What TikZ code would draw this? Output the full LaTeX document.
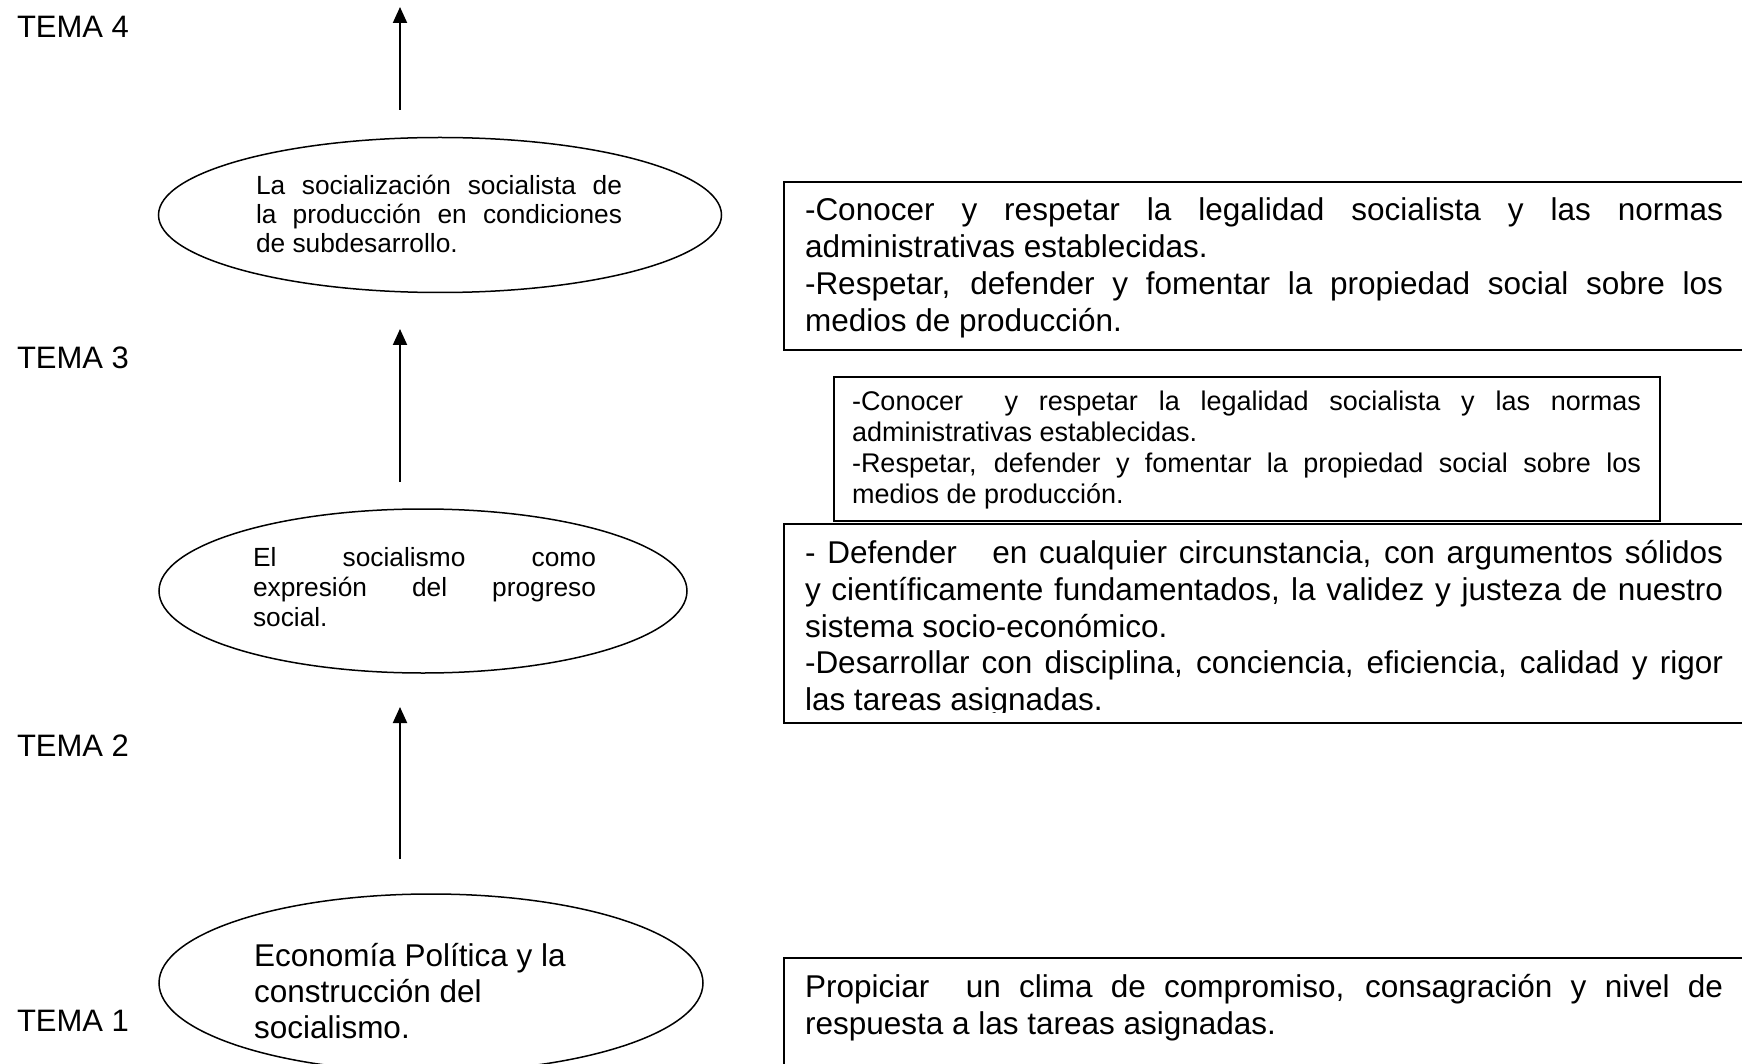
\documentclass[tikz,border=0pt]{standalone}
\usepackage{fontspec}
\setmainfont{Liberation Sans}
\usetikzlibrary{arrows.meta,shapes.geometric}
\tikzset{
  tl/.style={anchor=base west, inner sep=0pt, outer sep=0pt},
  fbig/.style={font=\fontsize{31.5}{36}\selectfont},
  fmid/.style={font=\fontsize{27}{31}\selectfont},
  fsmall/.style={font=\fontsize{26.3}{29.5}\selectfont},
  ftema/.style={font=\fontsize{31}{36}\selectfont},
  oval/.style={draw, ellipse, inner sep=0pt, line width=1.5pt},
  boxthick/.style={draw, line width=2.2pt},
  boxthin/.style={draw, line width=1.5pt},
  arr/.style={line width=2pt, -{Triangle[length=16pt,width=14pt]}}
}
\begin{document}
\begin{tikzpicture}[x=1pt,y=-1pt]
\clip (0,0) rectangle (1742,1064);
\fill[white] (0,0) rectangle (1742,1064);

% TEMA labels
\node[tl,ftema] (t4) at (17,38) {TEMA 4};
\node[tl,ftema] (t3) at (17,368) {TEMA 3};
\node[tl,ftema] (t2) at (17,756) {TEMA 2};
\node[tl,ftema] (t1) at (17,1031) {TEMA 1};

% ellipses
\node[oval, minimum width=563pt, minimum height=155pt] (e1) at (440,215) {};
\node[oval, minimum width=528pt, minimum height=164pt] (e2) at (423,591) {};
\node[oval, minimum width=544pt, minimum height=178pt] (e3) at (431,983) {};

% ellipse texts
\node[tl,fsmall] (e1a) at (256,195) {\makebox[366pt][s]{La socialización socialista de}};
\node[tl,fsmall] (e1b) at (256,224) {\makebox[366pt][s]{la producción en condiciones}};
\node[tl,fsmall] (e1c) at (256,253) {de subdesarrollo.};

\node[tl,fsmall] (e2a) at (253,566) {\makebox[343pt][s]{El socialismo como}};
\node[tl,fsmall] (e2b) at (253,596) {\makebox[343pt][s]{expresión del progreso}};
\node[tl,fsmall] (e2c) at (253,626) {social.};

\node[tl,fbig] (e3a) at (254,966) {Economía Política y la};
\node[tl,fbig] (e3b) at (254,1002) {construcción del};
\node[tl,fbig] (e3c) at (254,1038) {socialismo.};

% arrows
\coordinate (a1s) at (400,110); \coordinate (a1e) at (400,7);
\coordinate (a2s) at (400,482); \coordinate (a2e) at (400,329);
\coordinate (a3s) at (400,859); \coordinate (a3e) at (400,707);
\draw[arr] (a1s) -- (a1e);
\draw[arr] (a2s) -- (a2e);
\draw[arr] (a3s) -- (a3e);

% box A
\node[boxthick, anchor=north west, minimum width=1000pt, minimum height=168pt, inner sep=0pt] (bA) at (783,181) {};
\node[tl,fbig] (bA1) at (805,221) {\makebox[918pt][s]{-Conocer y respetar la legalidad socialista y las normas}};
\node[tl,fbig] (bA2) at (805,258) {administrativas establecidas.};
\node[tl,fbig] (bA3) at (805,295) {\makebox[918pt][s]{-Respetar, defender y fomentar la propiedad social sobre los}};
\node[tl,fbig] (bA4) at (805,332) {medios de producción.};

% box B
\node[boxthin, anchor=north west, minimum width=826pt, minimum height=144pt, inner sep=0pt] (bB) at (833,376) {};
\node[tl,fmid] (bB1) at (852,410) {\makebox[789pt][s]{-Conocer\ \ y respetar la legalidad socialista y las normas}};
\node[tl,fmid] (bB2) at (852,441) {administrativas establecidas.};
\node[tl,fmid] (bB3) at (852,472) {\makebox[789pt][s]{-Respetar, defender y fomentar la propiedad social sobre los}};
\node[tl,fmid] (bB4) at (852,503) {medios de producción.};

% box C
\node[boxthick, anchor=north west, minimum width=1000pt, minimum height=199pt, inner sep=0pt] (bC) at (783,523) {};
\begin{scope}
\clip (785,525) rectangle (1760,712);
\node[tl,fbig] (bC1) at (805,563) {\makebox[918pt][s]{- Defender\ \ \ en cualquier circunstancia, con argumentos sólidos}};
\node[tl,fbig] (bC2) at (805,600) {\makebox[918pt][s]{y científicamente fundamentados, la validez y justeza de nuestro}};
\node[tl,fbig] (bC3) at (805,637) {sistema socio-económico.};
\node[tl,fbig] (bC4) at (805,673) {\makebox[918pt][s]{-Desarrollar con disciplina, conciencia, eficiencia, calidad y rigor}};
\node[tl,fbig] (bC5) at (805,710) {las tareas asignadas.};
\end{scope}

% box D
\node[boxthick, anchor=north west, minimum width=1000pt, minimum height=160pt, inner sep=0pt] (bD) at (783,957) {};
\node[tl,fbig] (bD1) at (805,997) {\makebox[918pt][s]{Propiciar\ \ un clima de compromiso, consagración y nivel de}};
\node[tl,fbig] (bD2) at (805,1034) {respuesta a las tareas asignadas.};
\end{tikzpicture}
\end{document}
